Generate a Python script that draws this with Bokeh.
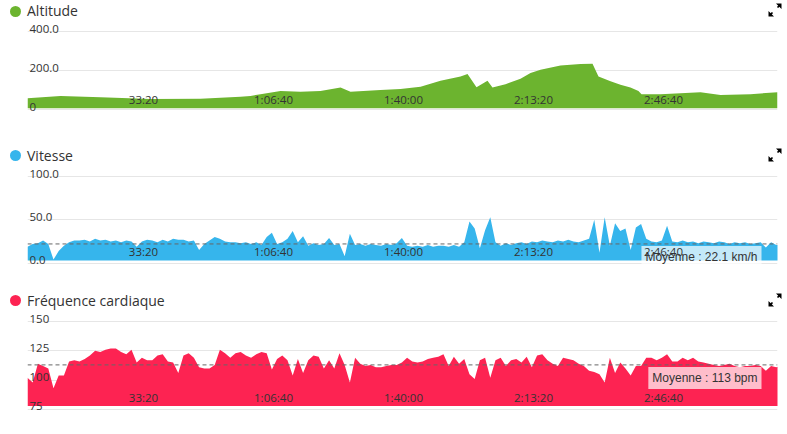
from bokeh.plotting import figure
from bokeh.models import Range1d, FixedTicker, Span, Label, LabelSet, ColumnDataSource, Div
from bokeh.layouts import column
from bokeh.core.properties import value
from bokeh.embed import file_html
from bokeh.resources import INLINE

# ---------------- data ----------------
x_ticks = [2000, 4000, 6000, 8000, 10000]
x_tick_labels = ["33:20", "1:06:40", "1:40:00", "2:13:20", "2:46:40"]

alt_time = [215, 723, 1338, 2108, 2877, 3492, 3646, 3800, 4108, 4415, 4723, 5031, 5185, 5646,
            5954, 6262, 6569, 6877, 6985, 7123, 7292, 7369, 7569, 7800, 7954, 8108, 8415, 8723,
            8908, 9000, 9185, 9338, 9492, 9615, 9662, 9954, 10569, 10877, 11338, 11754]
altitude = [59, 71, 64, 55, 57, 67, 71, 80, 97, 93, 97, 114, 93, 102,
            107, 118, 149, 171, 183, 116, 149, 114, 131, 159, 189, 206, 227, 235,
            236, 171, 146, 128, 114, 97, 80, 80, 90, 76, 80, 90]
alt_ticks = [0, 200, 400]
alt_tick_labels = ["0", "200.0", "400.0"]
alt_floor = 8

speed = [19, 22, 23, 26, 22, 4, 14, 20, 24, 26,
         26, 27, 25, 28, 26, 27, 25, 26, 24, 26,
         25, 19, 25, 27, 26, 24, 27, 25, 28, 27,
         27, 25, 26, 15, 22, 26, 30, 28, 25, 24,
         24, 23, 24, 22, 24, 21, 30, 35, 22, 24,
         28, 37, 24, 31, 20, 23, 21, 22, 29, 21,
         22, 8, 34, 21, 22, 20, 22, 21, 20, 22,
         21, 23, 29, 20, 19, 20, 19, 21, 19, 20,
         20, 19, 21, 19, 24, 48, 40, 17, 38, 53,
         24, 20, 23, 21, 23, 24, 22, 25, 24, 26,
         25, 24, 26, 25, 27, 25, 24, 26, 28, 50,
         12, 53, 20, 46, 37, 40, 15, 41, 45, 28,
         25, 24, 26, 43, 25, 24, 26, 24, 25, 23,
         25, 24, 23, 25, 24, 22, 24, 23, 24, 22,
         23, 24, 18, 24, 21, 21]
speed_mean = 22.1
speed_ticks = [0, 50, 100]
speed_tick_labels = ["0.0", "50.0", "100.0"]
speed_floor = 3

heart = [102, 98, 114, 112, 110, 93, 104, 104, 116, 117,
         116, 118, 121, 125, 124, 126, 127, 127, 124, 122,
         126, 115, 119, 117, 117, 121, 122, 116, 115, 106,
         121, 123, 119, 111, 110, 110, 113, 126, 123, 119,
         123, 124, 121, 119, 122, 124, 123, 109, 118, 121,
         117, 104, 118, 106, 117, 121, 120, 110, 117, 110,
         123, 113, 98, 119, 114, 112, 113, 111, 111, 112,
         113, 113, 115, 119, 116, 115, 116, 118, 119, 120,
         122, 112, 120, 114, 118, 105, 101, 117, 119, 102,
         117, 119, 112, 117, 118, 115, 120, 111, 121, 122,
         117, 114, 112, 119, 118, 117, 114, 112, 108, 107,
         105, 98, 119, 106, 115, 110, 104, 112, 112, 119,
         119, 117, 119, 122, 116, 116, 119, 117, 119, 116,
         115, 114, 113, 112, 113, 114, 112, 111, 112, 112,
         113, 112, 108, 112, 111, 112]
heart_mean = 113
heart_ticks = [75, 100, 125, 150]
heart_tick_labels = ["75", "100", "125", "150"]
heart_floor = 78

t0 = 215
dt = 80
sample_time = [t0 + dt * i for i in range(len(speed))]

X_START, X_END = 215, 11754
FONT = "Open Sans"
TXT = "#333333"
W = 783

ICON = ('<svg width="14" height="14" viewBox="0 0 14 14" style="display:block">'
        '<path d="M8 0.5 L13.5 0.5 L13.5 6 Z M0.5 8 L0.5 13.5 L6 13.5 Z" fill="#000"/>'
        '<path d="M12.5 1.5 L9.5 4.5 M1.5 12.5 L4.5 9.5" stroke="#000" stroke-width="1.7"/>'
        '</svg>')


def header(title, color, height, dot_top, text_top, icon_top):
    html = (
        f'<div style="position:relative;width:{W}px;height:{height}px;'
        f'font-family:\'Open Sans\';font-size:14px;color:{TXT};">'
        f'<span style="position:absolute;left:10px;top:{dot_top}px;width:11px;height:11px;'
        f'border-radius:50%;background:{color};"></span>'
        f'<span style="position:absolute;left:27px;top:{text_top}px;line-height:14px;'
        f'white-space:nowrap;">{title}</span>'
        f'<span style="position:absolute;left:768px;top:{icon_top}px;">{ICON}</span>'
        f'</div>')
    return Div(text=html, width=W, height=height, margin=(0, 0, 0, 0))


def make_panel(color, height, bottom, y_range, yticks, ylabels, xs, ys, floor, standoff):
    p = figure(width=W, height=height, x_range=Range1d(X_START, X_END),
               y_range=Range1d(*y_range), output_backend="svg", toolbar_location=None,
               title=None, min_border_left=27, min_border_right=6, min_border_top=0,
               min_border_bottom=bottom, margin=(0, 0, 0, 0))
    p.outline_line_color = None
    p.background_fill_color = "white"
    p.yaxis.visible = False
    p.xgrid.visible = False
    p.ygrid.ticker = FixedTicker(ticks=yticks)
    p.ygrid.grid_line_color = "#e6e6e6"

    xa = p.xaxis[0]
    xa.ticker = FixedTicker(ticks=x_ticks)
    xa.major_label_overrides = dict(zip(x_ticks, x_tick_labels))
    xa.major_tick_line_color = None
    xa.minor_tick_line_color = None
    xa.major_tick_out = 0
    xa.major_tick_in = 0
    xa.major_label_standoff = standoff
    xa.axis_line_color = None
    xa.major_label_text_font = FONT
    xa.major_label_text_font_size = "11.5px"
    xa.major_label_text_color = TXT
    xa.level = "overlay"

    p.varea(x=xs, y1=floor, y2=ys, fill_color=color, fill_alpha=1.0)

    src = ColumnDataSource(dict(x=[X_START] * len(yticks), y=yticks, text=ylabels))
    p.add_layout(LabelSet(x="x", y="y", text="text", source=src, x_offset=2, y_offset=3,
                          text_align="left", text_baseline="middle", text_font=value(FONT),
                          text_font_size=value("11.5px"), text_color=TXT))
    return p


h1 = header("Altitude", "#6cb42f", 20, 6, 4, 3)
p1 = make_panel("#6cb42f", 120, 27, (-19, 458), alt_ticks, alt_tick_labels,
                alt_time, altitude, alt_floor, -22)
h2 = header("Vitesse", "#36b5ec", 25, 10, 9, 8)
p2 = make_panel("#36b5ec", 120, 18, (-5.1, 112.7), speed_ticks, speed_tick_labels,
                sample_time, speed, speed_floor, -24)
h3 = header("Fréquence cardiaque", "#fd2352", 25, 10, 9, 8)
p3 = make_panel("#fd2352", 110, 8, (72.4, 159.4), heart_ticks, heart_tick_labels,
                sample_time, heart, heart_floor, -23)

for p, m, txt in ((p2, speed_mean, "Moyenne : 22.1 km/h"), (p3, heart_mean, "Moyenne : 113 bpm")):
    p.add_layout(Span(location=m, dimension="width", line_color="#666666",
                      line_dash="4 3", line_width=1))
    p.add_layout(Label(x=11508, y=m, text=txt, text_align="right", text_baseline="middle",
                       y_offset=-13, text_font="Liberation Sans", text_font_size="12px",
                       text_color=TXT, background_fill_color="white",
                       background_fill_alpha=0.7, padding=4))

layout = column(h1, p1, h2, p2, h3, p3, spacing=0)
open("out.html", "w").write(file_html(layout, INLINE))
